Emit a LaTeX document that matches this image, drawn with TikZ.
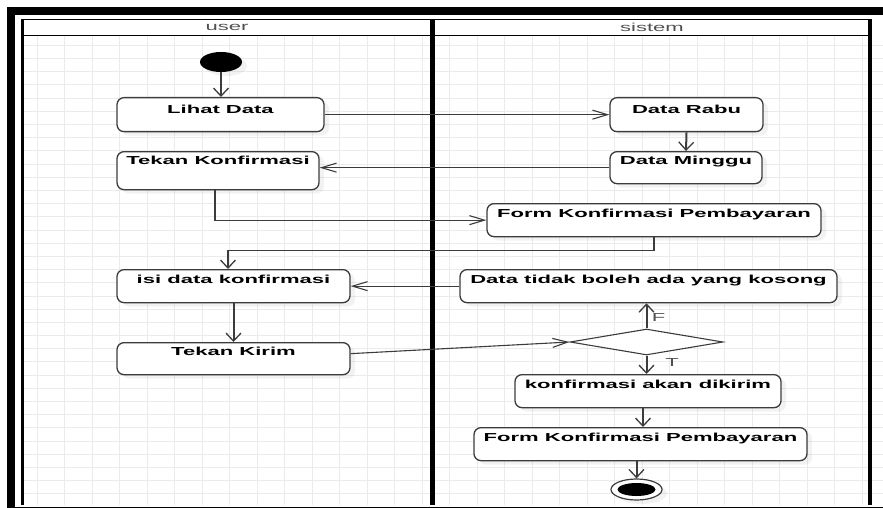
\documentclass[tikz,border=0pt]{standalone}
\usepackage{fontspec}
\setmainfont{Liberation Sans}
\usepackage{graphicx}
\usetikzlibrary{arrows.meta,shapes.geometric,shadows,calc}

\definecolor{ink}{HTML}{3C3C3C}
\definecolor{gridc}{HTML}{EBEBEB}
\definecolor{capt}{HTML}{505050}

% widened lettering, as on the original export
\newcommand{\wide}[1]{\scalebox{1.9}[1]{#1}}

\tikzset{
  softshadow/.style={drop shadow={shadow xshift=5pt, shadow yshift=-4pt, opacity=0.1}},
  act/.style={draw=ink, line width=1.3pt, fill=white, rounded corners=7pt,
    anchor=north, inner xsep=0pt, inner ysep=0pt,
    text height=13.6pt, text depth=19.4pt,
    font=\fontsize{11.6}{13}\selectfont\bfseries, text=black, softshadow},
  htip/.style={-{Straight Barb[length=15pt, width=9pt, line width=1.1pt]}},
  vtip/.style={-{Straight Barb[length=8pt, width=15pt, line width=1.3pt]}},
  hflow/.style={draw=ink, line width=1.1pt, htip},
  vflow/.style={draw=ink, line width=2pt, vtip},
  elbowflow/.style={draw=ink, line width=1.3pt},
  caption/.style={font=\fontsize{11.6}{13}\selectfont, text=capt, inner sep=0pt},
  frame/.style={fill=black}
}

\begin{document}
\begin{tikzpicture}[x=1pt, y=-1pt]
\useasboundingbox (0,0) rectangle (883,508);

% background grid
\foreach \k in {0,...,30}
  \draw[gridc, line width=0.8pt] ({37+27.5*\k},36) -- ({37+27.5*\k},505);
\foreach \k in {0,...,34}
  \draw[gridc, line width=0.8pt] (24,{45.3+13.19*\k}) -- (883,{45.3+13.19*\k});

% outer frame
\fill[frame] (7,7) rectangle (883,15);
\fill[frame] (7,7) rectangle (15,508);
\draw[black, line width=1.3pt] (7,507.4) -- (883,507.4);

% swimlanes
\draw[black, line width=3pt] (22.5,19) -- (22.5,505);
\draw[black, line width=4.5pt] (432.5,19) -- (432.5,505);
\draw[black, line width=4pt] (870,19) -- (870,505);
\draw[black, line width=1.2pt] (21,19.3) -- (872,19.3);
\draw[black, line width=1.2pt] (21,35.5) -- (872,35.5);
\node[caption] (laneU) at (227,27.5) {\wide{user}};
\node[caption] (laneS) at (652,27.5) {\wide{sistem}};

% initial and final states
\node[ellipse, fill=black, minimum width=42pt, minimum height=20pt, inner sep=0pt, softshadow] (start) at (221,62) {};
\node[ellipse, draw=ink, line width=1.2pt, fill=white, minimum width=51pt, minimum height=21pt, inner sep=0pt, softshadow] (stop) at (636.5,489.5) {};
\fill[black] (stop.center) ellipse [x radius=19pt, y radius=6.5pt];

% activities: user
\node[act, minimum width=207pt, text height=15.5pt, text depth=18.5pt] (lihat) at (220.5,97) {\wide{Lihat Data}};
\node[act, minimum width=202pt, text height=13.3pt, text depth=24.7pt] (tk1) at (218,151) {\wide{Tekan Konfirmasi}};
\node[act, minimum width=233pt] (isi) at (233.5,269) {\wide{isi data konfirmasi}};
\node[act, minimum width=233pt, text height=13pt, text depth=19pt] (tk2) at (233.5,342) {\wide{Tekan Kirim}};

% activities: sistem
\node[act, minimum width=153pt, text height=15.5pt, text depth=18.5pt] (rabu) at (686.5,97) {\wide{Data Rabu}};
\node[act, minimum width=152pt, text height=13.3pt, text depth=18.7pt] (minggu) at (686,151) {\wide{Data Minggu}};
\node[act, minimum width=334pt] (fk1) at (654,203) {\wide{Form Konfirmasi Pembayaran}};
\node[act, minimum width=377pt] (dtk) at (648.5,269) {\wide{Data tidak boleh ada yang kosong}};
\node[diamond, draw=ink, line width=1.1pt, fill=white, minimum width=153pt, minimum height=26pt, inner sep=0pt] (dia) at (646.5,342) {};
\node[act, minimum width=266pt] (kad) at (648,374) {\wide{konfirmasi akan dikirim}};
\node[act, minimum width=333pt] (fk2) at (640.5,427) {\wide{Form Konfirmasi Pembayaran}};

% control flows
\draw[vflow] (start.south) -- (start.south |- lihat.north);
\draw[hflow] (lihat.east) -- (rabu.west);
\draw[vflow] (rabu.south) -- (minggu.north);
\draw[hflow] (minggu.west) -- (minggu.west -| tk1.east);
\draw[elbowflow, htip] ([xshift=-3pt]tk1.south) |- (fk1.west);
\draw[elbowflow, vtip] (fk1.south) -- ++(0,13) -| ([xshift=-5.5pt]isi.north);
\draw[hflow] (dtk.west) -- (isi.east);
\draw[vflow] (isi.south) -- (tk2.north);
\draw[hflow] ([yshift=5pt]tk2.east) -- (dia.west);
\draw[vflow] (dia.north) -- (dia.north |- dtk.south);
\draw[vflow] (dia.south) -- (dia.south |- kad.north);
\draw[vflow] ([xshift=-5pt]kad.south) -- ([xshift=-5pt]kad.south |- fk2.north);
\draw[vflow] (fk2.south -| stop.north) -- (stop.north);

% guards
\node[caption] (gF) at (658.5,318) {\wide{F}};
\node[caption] (gT) at (672,363) {\wide{T}};
\end{tikzpicture}
\end{document}
